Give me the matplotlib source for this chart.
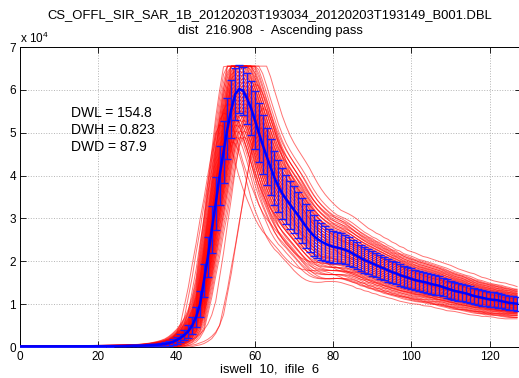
import numpy as np
import matplotlib
matplotlib.use("Agg")
import matplotlib.pyplot as plt

plt.rcParams['font.family'] = ['Liberation Sans', 'DejaVu Sans']
plt.rcParams['mathtext.fontset'] = 'custom'
plt.rcParams['mathtext.rm'] = 'Liberation Sans'

# ---- data ----
bins = np.arange(128)

mean_wave = np.array([
    150, 150, 160, 150, 150, 160, 150, 150, 160, 150,
    160, 150, 160, 170, 160, 160, 170, 170, 180, 180,
    190, 190, 200, 200, 210, 220, 230, 240, 260, 280,
    300, 330, 360, 400, 450, 520, 600, 700, 850, 1150,
    1600, 2100, 2800, 3700, 5000, 7000, 10000, 15500, 21000, 27500,
    33500, 40000, 45500, 51000, 55500, 59000, 60200, 59800, 58000, 55800,
    53000, 50000, 47200, 44500, 42000, 39500, 37500, 35800, 34500, 33200,
    32000, 30800, 29500, 28200, 27000, 26000, 25200, 24600, 24100, 23700,
    23400, 23200, 23000, 22700, 22300, 21800, 21300, 20800, 20300, 19900,
    19500, 19100, 18700, 18300, 17900, 17500, 17200, 16800, 16500, 16200,
    15900, 15600, 15400, 15200, 15000, 14700, 14500, 14300, 14000, 13700,
    13400, 13100, 12900, 12700, 12500, 12200, 11900, 11700, 11500, 11300,
    11100, 11000, 10900, 10700, 10500, 10300, 10200, 10100], dtype=float)

std_wave = np.array([
    80, 80, 80, 80, 80, 80, 80, 80, 80, 80,
    80, 80, 80, 80, 80, 80, 80, 80, 80, 80,
    80, 80, 80, 90, 90, 90, 100, 100, 110, 110,
    120, 140, 160, 190, 230, 280, 340, 420, 520, 650,
    800, 1000, 1250, 1500, 1900, 2400, 3100, 3900, 4700, 5500,
    6200, 6800, 7200, 7200, 6700, 6100, 5600, 5600, 5900, 6300,
    6700, 6900, 6900, 6700, 6500, 6300, 6100, 5900, 5700, 5600,
    5500, 5400, 5300, 5100, 4900, 4700, 4500, 4300, 4100, 3900,
    3700, 3600, 3500, 3400, 3300, 3200, 3100, 3000, 3000, 2900,
    2900, 2800, 2800, 2700, 2700, 2600, 2600, 2500, 2500, 2500,
    2450, 2400, 2400, 2350, 2300, 2300, 2250, 2200, 2200, 2150,
    2100, 2100, 2050, 2000, 2000, 1950, 1900, 1900, 1850, 1800,
    1800, 1750, 1750, 1700, 1700, 1650, 1650, 1600], dtype=float)

# spread of individual waveforms: offsets (std units) x delays (bins)
wave_z_levels = [-2.0, -1.75, -1.5, -1.3, -1.1, -0.9, -0.75, -0.6, -0.45, -0.3,
                 -0.15, 0.0, 0.15, 0.3, 0.45, 0.6, 0.75, 0.9, 1.1, 1.3,
                 1.5, 1.75, 2.0]
wave_shift_levels = [-1, 0, 1]
# a few outlying waveforms: (offset, delay)
outlier_z = [-1.5, -1.0, -0.6, -1.6, -0.8, 0.2, -2.2, 2.3]
outlier_shift = [-5, -4, -3, 5, 6, 4, -2, 2]

saturation = 65535
stats_lines = ["DWL = 154.8", "DWH = 0.823", "DWD = 87.9"]
title_lines = ["CS_OFFL_SIR_SAR_1B_20120203T193034_20120203T193149_B001.DBL",
               "dist  216.908  -  Ascending pass"]
xlabel_text = "iswell  10,  ifile  6"
xticks = [0, 20, 40, 60, 80, 100, 120]
yticks = [0, 10000, 20000, 30000, 40000, 50000, 60000, 70000]
ytick_labels = ["0", "1", "2", "3", "4", "5", "6", "7"]

# ---- figure ----
W, H = 519, 378
fig = plt.figure(figsize=(W / 100, H / 100), dpi=100)
ax = fig.add_axes([20 / W, 31 / H, 501 / W, 300 / H])

pairs = [(z, s) for s in wave_shift_levels for z in wave_z_levels]
pairs += list(zip(outlier_z, outlier_shift))
for z, s in pairs:
    idx = np.clip(bins - s, 0, len(bins) - 1)
    w = mean_wave[idx] + z * std_wave[idx]
    w = np.clip(w, 0, saturation)
    ax.plot(bins, w, color='#ff0000', lw=0.7, alpha=0.55, zorder=2)

ax.errorbar(bins, mean_wave, yerr=std_wave, color='#0000ff', ecolor='#1a1aff',
            lw=1.8, elinewidth=1.0, capsize=3.2, capthick=1.0, zorder=4)

ax.set_xlim(0, 128)
ax.set_ylim(0, 70000)
ax.set_xticks(xticks)
ax.set_xticklabels([str(t) for t in xticks])
ax.set_yticks(yticks)
ax.set_yticklabels(ytick_labels)
ax.tick_params(direction='in', length=4, width=0.6, labelsize=8.5,
               top=True, right=True, pad=3)
ax.grid(True, linestyle=':', color='#b4b4b4', lw=0.7)
for sp in ax.spines.values():
    sp.set_linewidth(0.7)

ax.text(0.0, 1.005, r'x 10$^4$', transform=ax.transAxes, fontsize=8.5,
        ha='left', va='bottom')

for i, line in enumerate(stats_lines):
    fig.text(71 / W, 1 - (113 + 17 * i) / H, line, fontsize=10,
             ha='left', va='center')

fig.text(270 / W, 1 - 15 / H, title_lines[0], fontsize=9.4, ha='center', va='center')
fig.text(270 / W, 1 - 31 / H, title_lines[1], fontsize=9.4, ha='center', va='center')
fig.text(270 / W, 1 - 369 / H, xlabel_text, fontsize=9.4, ha='center', va='center')

fig.savefig("out.png", dpi=100)
